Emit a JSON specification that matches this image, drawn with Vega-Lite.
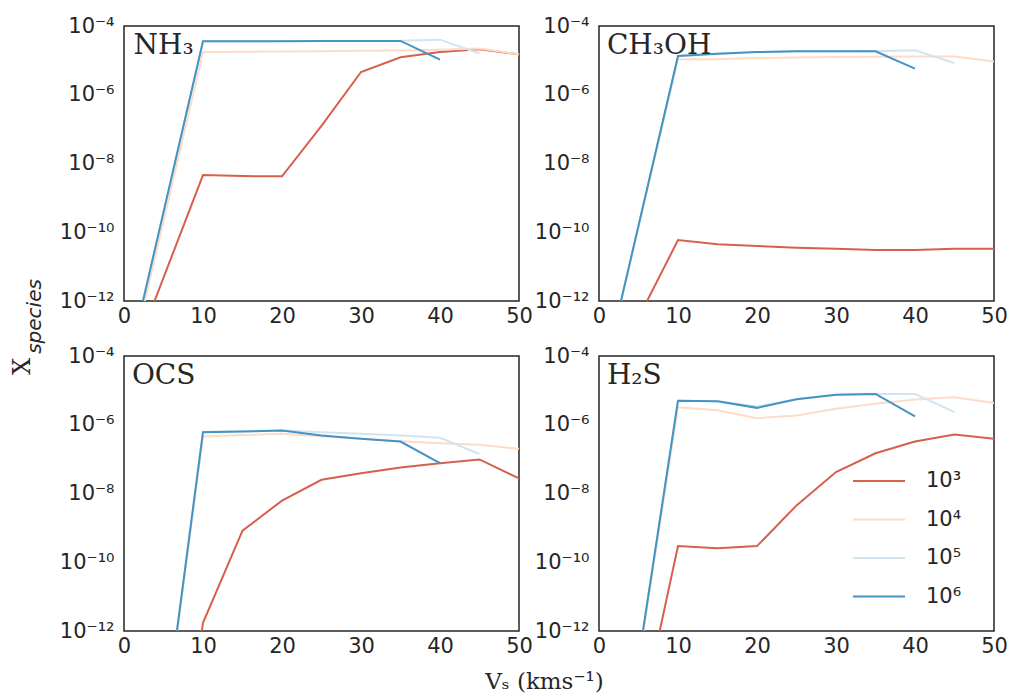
{
  "$schema": "https://vega.github.io/schema/vega-lite/v6.json",
  "background": "white",
  "padding": {"left": 9, "top": 14, "right": 5, "bottom": 5},
  "config": {
    "view": {"stroke": "#262626", "strokeWidth": 1.5},
    "axis": {"domain": false, "ticks": false, "grid": false, "labelFont": "DejaVu Sans", "labelFontSize": 21, "labelColor": "#262626", "titleColor": "#262626", "titleFontWeight": "normal"}
  },
  "datasets": {
    "d": [
      {"s":"NH3","n":"10³","vs":0,"ab":4.9e-15},{"s":"NH3","n":"10³","vs":10,"ab":4.6e-9},{"s":"NH3","n":"10³","vs":15,"ab":4.3e-9},{"s":"NH3","n":"10³","vs":20,"ab":4.25e-9},{"s":"NH3","n":"10³","vs":25,"ab":1.24e-7},{"s":"NH3","n":"10³","vs":30,"ab":4.6e-6},{"s":"NH3","n":"10³","vs":35,"ab":1.23e-5},{"s":"NH3","n":"10³","vs":40,"ab":1.75e-5},{"s":"NH3","n":"10³","vs":45,"ab":2.09e-5},{"s":"NH3","n":"10³","vs":50,"ab":1.5e-5},
      {"s":"NH3","n":"10⁴","vs":0,"ab":2.5e-15},{"s":"NH3","n":"10⁴","vs":10,"ab":1.75e-5},{"s":"NH3","n":"10⁴","vs":15,"ab":1.77e-5},{"s":"NH3","n":"10⁴","vs":20,"ab":1.8e-5},{"s":"NH3","n":"10⁴","vs":25,"ab":1.85e-5},{"s":"NH3","n":"10⁴","vs":30,"ab":1.9e-5},{"s":"NH3","n":"10⁴","vs":35,"ab":1.95e-5},{"s":"NH3","n":"10⁴","vs":40,"ab":2.05e-5},{"s":"NH3","n":"10⁴","vs":45,"ab":2.2e-5},{"s":"NH3","n":"10⁴","vs":50,"ab":1.5e-5},
      {"s":"NH3","n":"10⁵","vs":0,"ab":4.1e-15},{"s":"NH3","n":"10⁵","vs":10,"ab":3.6e-5},{"s":"NH3","n":"10⁵","vs":15,"ab":3.62e-5},{"s":"NH3","n":"10⁵","vs":20,"ab":3.64e-5},{"s":"NH3","n":"10⁵","vs":25,"ab":3.66e-5},{"s":"NH3","n":"10⁵","vs":30,"ab":3.68e-5},{"s":"NH3","n":"10⁵","vs":35,"ab":3.7e-5},{"s":"NH3","n":"10⁵","vs":40,"ab":4.0e-5},{"s":"NH3","n":"10⁵","vs":45,"ab":1.58e-5},
      {"s":"NH3","n":"10⁶","vs":0,"ab":4.1e-15},{"s":"NH3","n":"10⁶","vs":10,"ab":3.59e-5},{"s":"NH3","n":"10⁶","vs":15,"ab":3.61e-5},{"s":"NH3","n":"10⁶","vs":20,"ab":3.63e-5},{"s":"NH3","n":"10⁶","vs":25,"ab":3.65e-5},{"s":"NH3","n":"10⁶","vs":30,"ab":3.67e-5},{"s":"NH3","n":"10⁶","vs":35,"ab":3.67e-5},{"s":"NH3","n":"10⁶","vs":40,"ab":1.05e-5},

      {"s":"CH3OH","n":"10³","vs":0,"ab":1.8e-15},{"s":"CH3OH","n":"10³","vs":10,"ab":5.9e-11},{"s":"CH3OH","n":"10³","vs":15,"ab":4.5e-11},{"s":"CH3OH","n":"10³","vs":20,"ab":4.0e-11},{"s":"CH3OH","n":"10³","vs":25,"ab":3.55e-11},{"s":"CH3OH","n":"10³","vs":30,"ab":3.3e-11},{"s":"CH3OH","n":"10³","vs":35,"ab":3.05e-11},{"s":"CH3OH","n":"10³","vs":40,"ab":3.05e-11},{"s":"CH3OH","n":"10³","vs":45,"ab":3.3e-11},{"s":"CH3OH","n":"10³","vs":50,"ab":3.3e-11},
      {"s":"CH3OH","n":"10⁴","vs":0,"ab":1.8e-15},{"s":"CH3OH","n":"10⁴","vs":10,"ab":1.07e-5},{"s":"CH3OH","n":"10⁴","vs":15,"ab":1.07e-5},{"s":"CH3OH","n":"10⁴","vs":20,"ab":1.17e-5},{"s":"CH3OH","n":"10⁴","vs":25,"ab":1.22e-5},{"s":"CH3OH","n":"10⁴","vs":30,"ab":1.25e-5},{"s":"CH3OH","n":"10⁴","vs":35,"ab":1.28e-5},{"s":"CH3OH","n":"10⁴","vs":40,"ab":1.3e-5},{"s":"CH3OH","n":"10⁴","vs":45,"ab":1.3e-5},{"s":"CH3OH","n":"10⁴","vs":50,"ab":9.3e-6},
      {"s":"CH3OH","n":"10⁵","vs":0,"ab":1.8e-15},{"s":"CH3OH","n":"10⁵","vs":10,"ab":1.34e-5},{"s":"CH3OH","n":"10⁵","vs":15,"ab":1.57e-5},{"s":"CH3OH","n":"10⁵","vs":20,"ab":1.75e-5},{"s":"CH3OH","n":"10⁵","vs":25,"ab":1.84e-5},{"s":"CH3OH","n":"10⁵","vs":30,"ab":1.84e-5},{"s":"CH3OH","n":"10⁵","vs":35,"ab":1.84e-5},{"s":"CH3OH","n":"10⁵","vs":40,"ab":1.96e-5},{"s":"CH3OH","n":"10⁵","vs":45,"ab":8.4e-6},
      {"s":"CH3OH","n":"10⁶","vs":0,"ab":1.8e-15},{"s":"CH3OH","n":"10⁶","vs":10,"ab":1.34e-5},{"s":"CH3OH","n":"10⁶","vs":15,"ab":1.57e-5},{"s":"CH3OH","n":"10⁶","vs":20,"ab":1.75e-5},{"s":"CH3OH","n":"10⁶","vs":25,"ab":1.84e-5},{"s":"CH3OH","n":"10⁶","vs":30,"ab":1.84e-5},{"s":"CH3OH","n":"10⁶","vs":35,"ab":1.84e-5},{"s":"CH3OH","n":"10⁶","vs":40,"ab":5.75e-6},

      {"s":"OCS","n":"10³","vs":0,"ab":1e-28},{"s":"OCS","n":"10³","vs":10,"ab":1.74e-12},{"s":"OCS","n":"10³","vs":15,"ab":8.3e-10},{"s":"OCS","n":"10³","vs":20,"ab":6.2e-9},{"s":"OCS","n":"10³","vs":25,"ab":2.5e-8},{"s":"OCS","n":"10³","vs":30,"ab":3.9e-8},{"s":"OCS","n":"10³","vs":35,"ab":5.75e-8},{"s":"OCS","n":"10³","vs":40,"ab":7.6e-8},{"s":"OCS","n":"10³","vs":45,"ab":9.8e-8},{"s":"OCS","n":"10³","vs":50,"ab":2.75e-8},
      {"s":"OCS","n":"10⁴","vs":0,"ab":1.8e-24},{"s":"OCS","n":"10⁴","vs":10,"ab":4.55e-7},{"s":"OCS","n":"10⁴","vs":15,"ab":5.0e-7},{"s":"OCS","n":"10⁴","vs":20,"ab":5.45e-7},{"s":"OCS","n":"10⁴","vs":25,"ab":4.66e-7},{"s":"OCS","n":"10⁴","vs":30,"ab":3.9e-7},{"s":"OCS","n":"10⁴","vs":35,"ab":3.33e-7},{"s":"OCS","n":"10⁴","vs":40,"ab":2.9e-7},{"s":"OCS","n":"10⁴","vs":45,"ab":2.6e-7},{"s":"OCS","n":"10⁴","vs":50,"ab":2.0e-7},
      {"s":"OCS","n":"10⁵","vs":0,"ab":1.8e-24},{"s":"OCS","n":"10⁵","vs":10,"ab":6.3e-7},{"s":"OCS","n":"10⁵","vs":15,"ab":6.5e-7},{"s":"OCS","n":"10⁵","vs":20,"ab":6.8e-7},{"s":"OCS","n":"10⁵","vs":25,"ab":6.1e-7},{"s":"OCS","n":"10⁵","vs":30,"ab":5.45e-7},{"s":"OCS","n":"10⁵","vs":35,"ab":4.9e-7},{"s":"OCS","n":"10⁵","vs":40,"ab":4.17e-7},{"s":"OCS","n":"10⁵","vs":45,"ab":1.41e-7},
      {"s":"OCS","n":"10⁶","vs":0,"ab":1.8e-24},{"s":"OCS","n":"10⁶","vs":10,"ab":6.1e-7},{"s":"OCS","n":"10⁶","vs":15,"ab":6.37e-7},{"s":"OCS","n":"10⁶","vs":20,"ab":6.8e-7},{"s":"OCS","n":"10⁶","vs":25,"ab":4.9e-7},{"s":"OCS","n":"10⁶","vs":30,"ab":3.9e-7},{"s":"OCS","n":"10⁶","vs":35,"ab":3.24e-7},{"s":"OCS","n":"10⁶","vs":40,"ab":7.6e-8},

      {"s":"H2S","n":"10³","vs":0,"ab":6.3e-21},{"s":"H2S","n":"10³","vs":10,"ab":2.95e-10},{"s":"H2S","n":"10³","vs":15,"ab":2.57e-10},{"s":"H2S","n":"10³","vs":20,"ab":2.95e-10},{"s":"H2S","n":"10³","vs":25,"ab":4.5e-9},{"s":"H2S","n":"10³","vs":30,"ab":4.2e-8},{"s":"H2S","n":"10³","vs":35,"ab":1.48e-7},{"s":"H2S","n":"10³","vs":40,"ab":3.24e-7},{"s":"H2S","n":"10³","vs":45,"ab":5.2e-7},{"s":"H2S","n":"10³","vs":50,"ab":3.9e-7},
      {"s":"H2S","n":"10⁴","vs":0,"ab":4e-21},{"s":"H2S","n":"10⁴","vs":10,"ab":3.24e-6},{"s":"H2S","n":"10⁴","vs":15,"ab":2.63e-6},{"s":"H2S","n":"10⁴","vs":20,"ab":1.55e-6},{"s":"H2S","n":"10⁴","vs":25,"ab":1.86e-6},{"s":"H2S","n":"10⁴","vs":30,"ab":2.9e-6},{"s":"H2S","n":"10⁴","vs":35,"ab":4.1e-6},{"s":"H2S","n":"10⁴","vs":40,"ab":5.4e-6},{"s":"H2S","n":"10⁴","vs":45,"ab":6.3e-6},{"s":"H2S","n":"10⁴","vs":50,"ab":4.3e-6},
      {"s":"H2S","n":"10⁵","vs":0,"ab":4e-21},{"s":"H2S","n":"10⁵","vs":10,"ab":5.0e-6},{"s":"H2S","n":"10⁵","vs":15,"ab":4.8e-6},{"s":"H2S","n":"10⁵","vs":20,"ab":3.4e-6},{"s":"H2S","n":"10⁵","vs":25,"ab":5.5e-6},{"s":"H2S","n":"10⁵","vs":30,"ab":7.4e-6},{"s":"H2S","n":"10⁵","vs":35,"ab":7.9e-6},{"s":"H2S","n":"10⁵","vs":40,"ab":7.9e-6},{"s":"H2S","n":"10⁵","vs":45,"ab":2.34e-6},
      {"s":"H2S","n":"10⁶","vs":0,"ab":4e-21},{"s":"H2S","n":"10⁶","vs":10,"ab":5.0e-6},{"s":"H2S","n":"10⁶","vs":15,"ab":4.8e-6},{"s":"H2S","n":"10⁶","vs":20,"ab":3.1e-6},{"s":"H2S","n":"10⁶","vs":25,"ab":5.5e-6},{"s":"H2S","n":"10⁶","vs":30,"ab":7.4e-6},{"s":"H2S","n":"10⁶","vs":35,"ab":7.9e-6},{"s":"H2S","n":"10⁶","vs":40,"ab":1.74e-6}
    ]
  },
  "columns": 2,
  "spacing": {"row": 55, "column": 80},
  "bounds": "flush",
  "resolve": {"legend": {"color": "independent"}},
  "concat": [
    {
      "width": 395, "height": 275,
      "layer": [
        {
          "data": {"name": "d"},
          "transform": [{"filter": "datum.s === 'NH3'"}],
          "mark": {"type": "line", "clip": true, "strokeWidth": 2},
          "encoding": {
            "x": {"field": "vs", "type": "quantitative", "scale": {"domain": [0, 50], "nice": false}, "axis": {"values": [0,10,20,30,40,50], "labelFlush": false, "labelPadding": 4, "title": null}},
            "y": {"field": "ab", "type": "quantitative", "scale": {"type": "log", "domain": [1e-12, 1e-4], "nice": false}, "axis": {"values": [1e-12,1e-10,1e-8,1e-6,1e-4], "labelPadding": 10, "labelExpr": "datum.value < 1e-11 ? '10⁻¹²' : datum.value < 1e-9 ? '10⁻¹⁰' : datum.value < 1e-7 ? '10⁻⁸' : datum.value < 1e-5 ? '10⁻⁶' : '10⁻⁴'", "title": "species", "titleFont": "DejaVu Sans", "titleFontStyle": "italic", "titleFontSize": 20, "titleX": -84, "titleY": 290, "titleAlign": "center", "titleBaseline": "alphabetic", "titleAngle": 270}},
            "color": {"field": "n", "type": "nominal", "scale": {"domain": ["10³","10⁴","10⁵","10⁶"], "range": ["#d6604d","#fddbc7","#d1e5f0","#4393c3"]}, "legend": null}
          }
        },
        {
          "data": {"values": [{"label": "NH₃"}]},
          "mark": {"type": "text", "font": "DejaVu Serif", "fontSize": 28, "align": "left", "baseline": "alphabetic", "color": "#262626"},
          "encoding": {"x": {"datum": 1.2}, "y": {"datum": 1.53e-5}, "text": {"field": "label"}}
        }
      ]
    },
    {
      "width": 395, "height": 275,
      "layer": [
        {
          "data": {"name": "d"},
          "transform": [{"filter": "datum.s === 'CH3OH'"}],
          "mark": {"type": "line", "clip": true, "strokeWidth": 2},
          "encoding": {
            "x": {"field": "vs", "type": "quantitative", "scale": {"domain": [0, 50], "nice": false}, "axis": {"values": [0,10,20,30,40,50], "labelFlush": false, "labelPadding": 4, "title": null}},
            "y": {"field": "ab", "type": "quantitative", "scale": {"type": "log", "domain": [1e-12, 1e-4], "nice": false}, "axis": {"values": [1e-12,1e-10,1e-8,1e-6,1e-4], "labelPadding": 10, "labelExpr": "datum.value < 1e-11 ? '10⁻¹²' : datum.value < 1e-9 ? '10⁻¹⁰' : datum.value < 1e-7 ? '10⁻⁸' : datum.value < 1e-5 ? '10⁻⁶' : '10⁻⁴'", "title": null}},
            "color": {"field": "n", "type": "nominal", "scale": {"domain": ["10³","10⁴","10⁵","10⁶"], "range": ["#d6604d","#fddbc7","#d1e5f0","#4393c3"]}, "legend": null}
          }
        },
        {
          "data": {"values": [{"label": "CH₃OH"}]},
          "mark": {"type": "text", "font": "DejaVu Serif", "fontSize": 28, "align": "left", "baseline": "alphabetic", "color": "#262626"},
          "encoding": {"x": {"datum": 1.0}, "y": {"datum": 1.53e-5}, "text": {"field": "label"}}
        }
      ]
    },
    {
      "width": 395, "height": 275,
      "layer": [
        {
          "data": {"name": "d"},
          "transform": [{"filter": "datum.s === 'OCS'"}],
          "mark": {"type": "line", "clip": true, "strokeWidth": 2},
          "encoding": {
            "x": {"field": "vs", "type": "quantitative", "scale": {"domain": [0, 50], "nice": false}, "axis": {"values": [0,10,20,30,40,50], "labelFlush": false, "labelPadding": 4, "title": "Vₛ (kms⁻¹)", "titleFont": "DejaVu Serif", "titleFontSize": 23, "titleX": 420, "titleY": 57, "titleAlign": "center", "titleBaseline": "alphabetic"}},
            "y": {"field": "ab", "type": "quantitative", "scale": {"type": "log", "domain": [1e-12, 1e-4], "nice": false}, "axis": {"values": [1e-12,1e-10,1e-8,1e-6,1e-4], "labelPadding": 10, "labelExpr": "datum.value < 1e-11 ? '10⁻¹²' : datum.value < 1e-9 ? '10⁻¹⁰' : datum.value < 1e-7 ? '10⁻⁸' : datum.value < 1e-5 ? '10⁻⁶' : '10⁻⁴'", "title": "X", "titleFont": "DejaVu Serif", "titleFontSize": 24, "titleX": -95, "titleY": 10, "titleAlign": "center", "titleBaseline": "alphabetic", "titleAngle": 270}},
            "color": {"field": "n", "type": "nominal", "scale": {"domain": ["10³","10⁴","10⁵","10⁶"], "range": ["#d6604d","#fddbc7","#d1e5f0","#4393c3"]}, "legend": null}
          }
        },
        {
          "data": {"values": [{"label": "OCS"}]},
          "mark": {"type": "text", "font": "DejaVu Serif", "fontSize": 28, "align": "left", "baseline": "alphabetic", "color": "#262626"},
          "encoding": {"x": {"datum": 1.0}, "y": {"datum": 1.53e-5}, "text": {"field": "label"}}
        }
      ]
    },
    {
      "width": 395, "height": 275,
      "layer": [
        {
          "data": {"name": "d"},
          "transform": [{"filter": "datum.s === 'H2S'"}],
          "mark": {"type": "line", "clip": true, "strokeWidth": 2},
          "encoding": {
            "x": {"field": "vs", "type": "quantitative", "scale": {"domain": [0, 50], "nice": false}, "axis": {"values": [0,10,20,30,40,50], "labelFlush": false, "labelPadding": 4, "title": null}},
            "y": {"field": "ab", "type": "quantitative", "scale": {"type": "log", "domain": [1e-12, 1e-4], "nice": false}, "axis": {"values": [1e-12,1e-10,1e-8,1e-6,1e-4], "labelPadding": 10, "labelExpr": "datum.value < 1e-11 ? '10⁻¹²' : datum.value < 1e-9 ? '10⁻¹⁰' : datum.value < 1e-7 ? '10⁻⁸' : datum.value < 1e-5 ? '10⁻⁶' : '10⁻⁴'", "title": null}},
            "color": {"field": "n", "type": "nominal", "scale": {"domain": ["10³","10⁴","10⁵","10⁶"], "range": ["#d6604d","#fddbc7","#d1e5f0","#4393c3"]}, "legend": {"orient": "none", "legendX": 253, "legendY": 98, "title": null, "padding": 0, "symbolType": "stroke", "symbolStrokeWidth": 2, "symbolSize": 2700, "labelFont": "DejaVu Sans", "labelFontSize": 21, "labelColor": "#262626", "labelOffset": 20, "rowPadding": 1.5}}
          }
        },
        {
          "data": {"values": [{"label": "H₂S"}]},
          "mark": {"type": "text", "font": "DejaVu Serif", "fontSize": 28, "align": "left", "baseline": "alphabetic", "color": "#262626"},
          "encoding": {"x": {"datum": 1.0}, "y": {"datum": 1.53e-5}, "text": {"field": "label"}}
        }
      ]
    }
  ]
}
